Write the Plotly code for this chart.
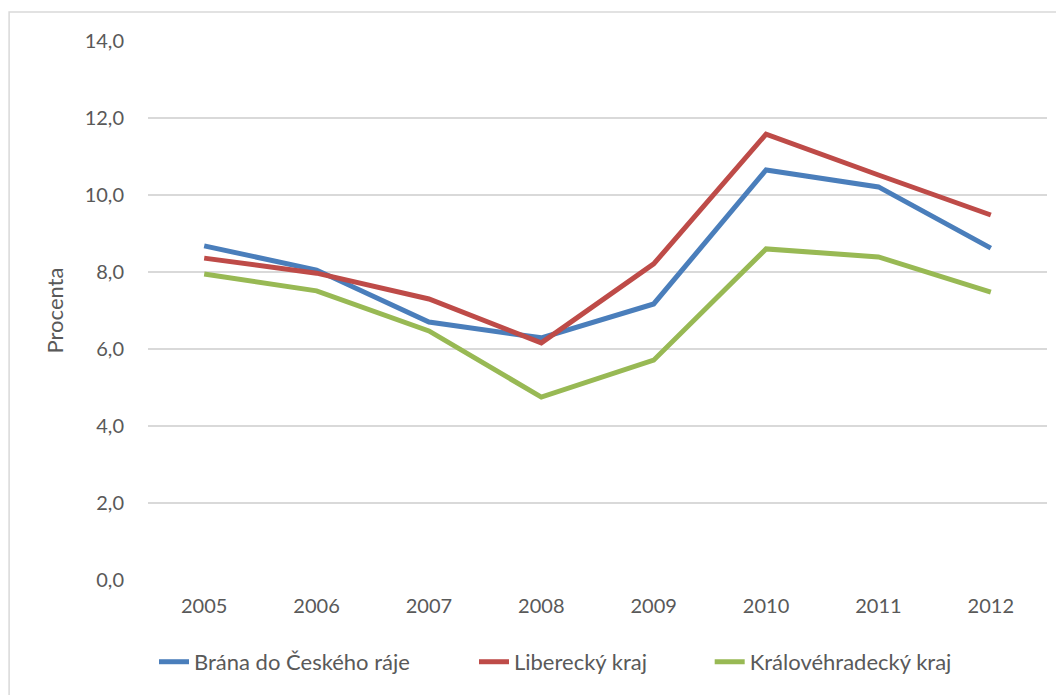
import plotly.graph_objects as go

years = ["2005", "2006", "2007", "2008", "2009", "2010", "2011", "2012"]
brana = [8.68, 8.05, 6.70, 6.29, 7.17, 10.65, 10.21, 8.62]
liberec = [8.36, 7.97, 7.30, 6.16, 8.21, 11.58, 10.52, 9.48]
hradec = [7.95, 7.51, 6.47, 4.75, 5.71, 8.60, 8.39, 7.48]
series_names = ["Brána do Českého ráje", "Liberecký kraj", "Královéhradecký kraj"]
colors = ["#4a7ebb", "#be4b48", "#98b954"]
legend_ids = ["legend", "legend2", "legend3"]
legend_x = [0.0067, 0.3626, 0.6248]

fig = go.Figure()
for name, vals, c, lg in zip(series_names, [brana, liberec, hradec], colors, legend_ids):
    fig.add_trace(go.Scatter(x=years, y=vals, name=name, mode="lines",
                             line=dict(color=c, width=5), legend=lg))

font_family = "Lato, 'Open Sans', sans-serif"
legend_common = dict(orientation="h", xanchor="left", y=-0.152, yanchor="middle",
                     font=dict(size=22, color="#595959"), bgcolor="rgba(0,0,0,0)")
fig.update_layout(
    width=1064, height=695,
    margin=dict(l=140, r=25, t=33, b=123),
    plot_bgcolor="white", paper_bgcolor="white",
    separators=", ",
    font=dict(family=font_family, size=20, color="#595959"),
    showlegend=True,
    legend=dict(x=legend_x[0], **legend_common),
    legend2=dict(x=legend_x[1], **legend_common),
    legend3=dict(x=legend_x[2], **legend_common),
    xaxis=dict(type="category", range=[-0.5, 7.5], showgrid=False, zeroline=False,
               showline=False, ticks="", ticklabelstandoff=12,
               tickfont=dict(size=20, color="#595959")),
    yaxis=dict(range=[0, 14], dtick=2, tickformat=".1f", showgrid=True,
               gridcolor="#d9d9d9", gridwidth=1.5, zeroline=False, showline=False,
               ticks="", ticklabelstandoff=23,
               tickfont=dict(size=20, color="#595959"),
               title=dict(text="Procenta", font=dict(size=22, color="#595959"), standoff=14)),
    shapes=[dict(type="rect", xref="paper", yref="paper",
                 x0=-0.1545, x1=1.04, y0=-0.25, y1=1.0538,
                 line=dict(color="#d9d9d9", width=1.5), fillcolor="rgba(0,0,0,0)",
                 layer="below")],
)

fig.write_html("out.html")
